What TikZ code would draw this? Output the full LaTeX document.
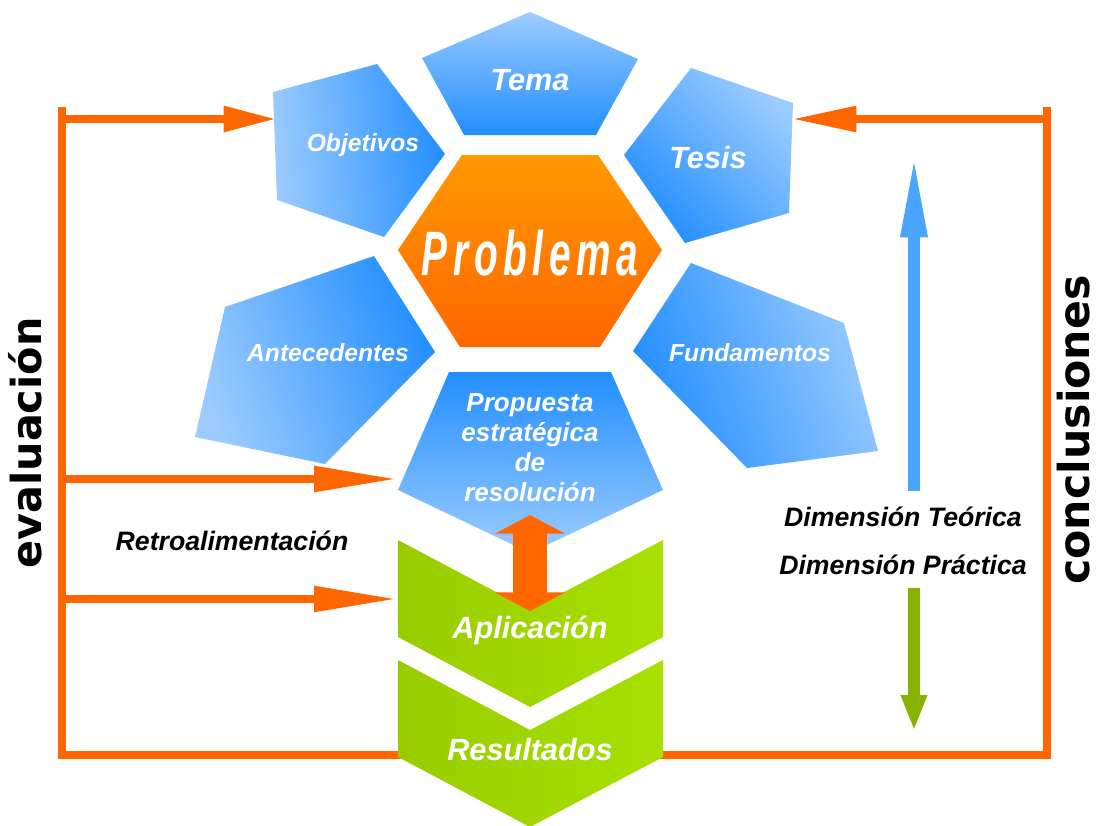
\documentclass[tikz,border=0pt]{standalone}
\usepackage{fontspec}
\setmainfont{Liberation Sans}
\newfontfamily\widefont{DejaVu Sans}
\newfontfamily\probfont[FakeStretch=0.62,LetterSpace=9]{Liberation Sans}
\usepackage{xcolor}
\usetikzlibrary{arrows.meta}

\definecolor{bluelight}{RGB}{156,204,255}
\definecolor{bluedark}{RGB}{34,142,255}
\definecolor{orangeline}{RGB}{255,102,0}
\definecolor{orangetop}{RGB}{255,153,0}
\definecolor{greenleft}{RGB}{153,204,0}
\definecolor{greenright}{RGB}{168,224,0}
\definecolor{arrowblue}{RGB}{74,165,255}
\definecolor{arrowgreen}{RGB}{136,180,0}

\begin{document}
\begin{tikzpicture}[x=0.75pt, y=-0.75pt, >=latex,
  lbl/.style={text=white, align=center, font=\bfseries\itshape\fontsize{18.5}{22.5}\selectfont},
  lblbig/.style={lbl, font=\bfseries\itshape\fontsize{23}{27}\selectfont},
  note/.style={text=black, font=\bfseries\itshape\fontsize{20}{24}\selectfont},
  side/.style={text=black, rotate=90, anchor=base, inner sep=0pt, text depth=0pt,
    font=\widefont\bfseries\fontsize{#1}{36}\selectfont},
  side/.default=31,
  frame/.style={orangeline, line width=6.5pt},
  flow/.style={frame, -{Triangle[length=#1, width=18pt]}},
  flow/.default=40pt,
  petal/.style={top color=bluelight, bottom color=bluedark, shading angle=#1}]
  \def\notch{70}
  \def\tall{97}

  \useasboundingbox (0,0) rectangle (1099,825);

  % frame
  \coordinate (lt) at (62,107);
  \coordinate (lb) at (62,755);
  \coordinate (rt) at (1047,107);
  \coordinate (rb) at (1047,755);
  \draw[frame] (lt) -- (lb) -- (rb) -- (rt);

  % petals
  \shade[petal=0] (530,12) -- (638,59) -- (596,135) -- (464,135) -- (422,58) -- cycle;
  \shade[petal=95] (273,92) -- (377,64) -- (445,154) -- (384,237) -- (277,200) -- cycle;
  \shade[petal=-45] (691,68) -- (793,103) -- (789,213) -- (685,243) -- (624,155) -- cycle;
  \shade[petal=110] (225,307) -- (374,256) -- (435,352) -- (325,464) -- (195,437) -- cycle;
  \shade[petal=-70] (691,263) -- (844,323) -- (878,451) -- (747,468) -- (633,351) -- cycle;
  \shade[petal=180] (449,372) -- (611,372) -- (663,490) -- (530,553) -- (398,490) -- cycle;
  \shade[top color=orangetop, bottom color=orangeline]
    (462,155) -- (598,155) -- (662,250) -- (600,347) -- (460,347) -- (398,250) -- cycle;

  % chevrons
  \foreach \y in {540, 660} {
    \shade[top color=greenleft, bottom color=greenright, shading angle=90]
      (398,\y) -- (530,\y+\notch) -- (663,\y) -- (663,\y+\tall)
      -- (530,\y+\tall+\notch) -- (398,\y+\tall) -- cycle;
  }

  \node[lblbig] (tema) at (530,80) {Tema};
  \node[lbl] (obj) at (363,145) {Objetivos};
  \node[lblbig] (tesis) at (708,158) {Tesis};
  \node[lbl] (ante) at (328,353) {Antecedentes};
  \node[lbl] (fund) at (750,353) {Fundamentos};
  \node[lbl, font=\bfseries\itshape\fontsize{19.5}{22.5}\selectfont] (prop) at (530,448)
    {Propuesta\\estratégica\\de\\resolución};
  \node[text=white, font=\probfont\bfseries\itshape\fontsize{47}{50}\selectfont] (prob) at (530,253) {Problema};
  \node[lblbig] (apl) at (530,630) {Aplicación};
  \node[lblbig] (res) at (530,750) {Resultados};

  \node[note] (retro) at (232,541) {Retroalimentación};
  \node[note] (dimT) at (903,517) {Dimensión Teórica};
  \node[note] (dimP) at (903,565) {Dimensión Práctica};
  \node[side] (eval) at (41,443) {evaluación};
  \node[side=32] (concl) at (1089,430) {conclusiones};

  % arrows
  \coordinate (obj-w) at (277,119);
  \coordinate (prop-w) at (398,479);
  \coordinate (apl-w) at (398,599);
  \coordinate (tes-e) at (791,119);
  \draw[flow] (lt |- obj-w) -- (obj-w);
  \draw[flow=63pt] (lt |- prop-w) -- (prop-w);
  \draw[flow=63pt] (lt |- apl-w) -- (apl-w);
  \draw[flow=49pt] (rt |- tes-e) -- (tes-e);

  \coordinate (prop-s) at (530,515);
  \coordinate (apl-n) at (530,611);
  \draw[orangeline, line width=26pt,
    {Triangle[length=14pt,width=52pt]}-{Triangle[length=14pt,width=52pt]}] (prop-s) -- (apl-n);

  \coordinate (teo-b) at (914,491);
  \coordinate (teo-t) at (914,152);
  \coordinate (pra-t) at (914,588);
  \coordinate (pra-b) at (914,731);
  \draw[arrowblue, line width=9pt, -{Triangle[length=64pt,width=18pt]}] (teo-b) -- (teo-t);
  \draw[arrowgreen, line width=9pt, -{Triangle[length=27pt,width=18pt]}] (pra-t) -- (pra-b);
\end{tikzpicture}
\end{document}
